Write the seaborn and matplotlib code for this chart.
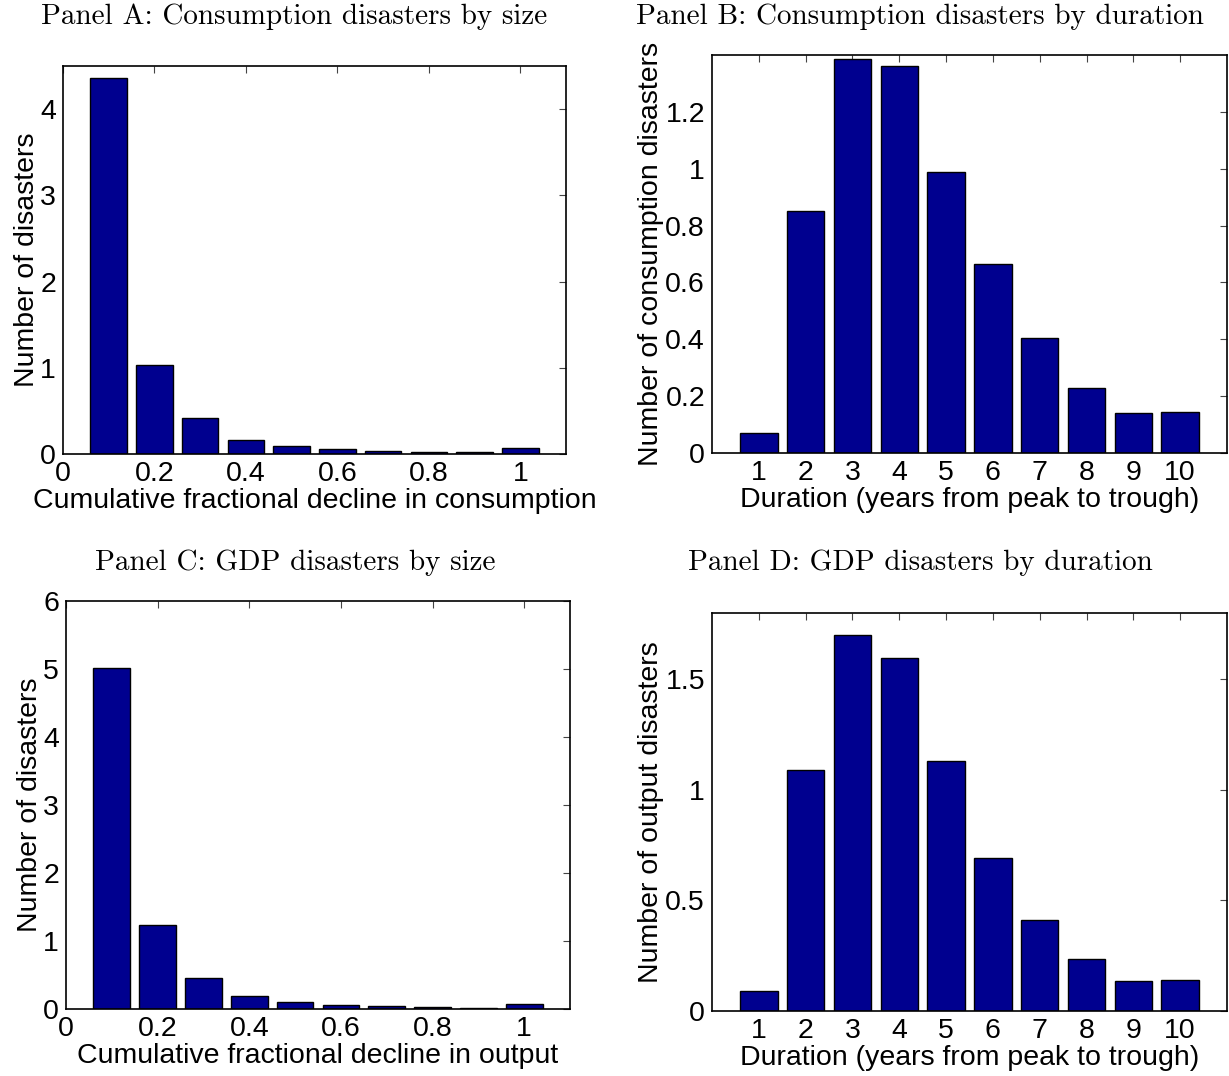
import numpy as np
import pandas as pd
import matplotlib
matplotlib.use("Agg")
import matplotlib.pyplot as plt
import seaborn as sns

# ---- data ----
size_bins = [0.1, 0.2, 0.3, 0.4, 0.5, 0.6, 0.7, 0.8, 0.9, 1.0]
cons_size = [4.36, 1.03, 0.42, 0.16, 0.09, 0.055, 0.035, 0.027, 0.02, 0.07]
gdp_size = [5.02, 1.24, 0.46, 0.19, 0.10, 0.055, 0.04, 0.025, 0.02, 0.07]

durations = [1, 2, 3, 4, 5, 6, 7, 8, 9, 10]
cons_dur = [0.07, 0.85, 1.385, 1.36, 0.99, 0.665, 0.405, 0.23, 0.14, 0.145]
gdp_dur = [0.09, 1.09, 1.70, 1.595, 1.13, 0.69, 0.41, 0.235, 0.135, 0.14]

size_ticks = [0, 0.2, 0.4, 0.6, 0.8, 1.0]
size_ticklabels = ["0", "0.2", "0.4", "0.6", "0.8", "1"]
a_yticks = [0, 1, 2, 3, 4]
b_yticks = [0, 0.2, 0.4, 0.6, 0.8, 1.0, 1.2]
b_yticklabels = ["0", "0.2", "0.4", "0.6", "0.8", "1", "1.2"]
c_yticks = [0, 1, 2, 3, 4, 5, 6]
d_yticks = [0, 0.5, 1.0, 1.5]
d_yticklabels = ["0", "0.5", "1", "1.5"]

titles = ["Panel A: Consumption disasters by size",
          "Panel B: Consumption disasters by duration",
          "Panel C: GDP disasters by size",
          "Panel D: GDP disasters by duration"]

sns.set_style("white")
plt.rcParams["font.family"] = ["Liberation Sans", "DejaVu Sans"]
plt.rcParams["text.color"] = "black"
plt.rcParams["axes.labelcolor"] = "black"
plt.rcParams["xtick.color"] = "black"
plt.rcParams["ytick.color"] = "black"

W, H = 1229, 1076
fig = plt.figure(figsize=(W / 100, H / 100), dpi=100)

def px_axes(l, t, r, b):
    return fig.add_axes([l / W, 1 - b / H, (r - l) / W, (b - t) / H])

axA = px_axes(63, 66, 566, 454)
axB = px_axes(712, 55, 1227, 453)
axC = px_axes(66, 601, 570, 1009)
axD = px_axes(712, 613, 1227, 1011)

BAR = "#00008F"
FS = 20.5

def draw(ax, x, y):
    df = pd.DataFrame({"x": x, "y": y})
    sns.barplot(data=df, x="x", y="y", native_scale=True, color=BAR,
                saturation=1, edgecolor="black", linewidth=1.0, width=0.8,
                ax=ax, errorbar=None)
    ax.tick_params(direction="in", top=True, right=True, length=5,
                   width=0.8, labelsize=FS, pad=5, color="#444444",
                   labelcolor="black")
    for s in ax.spines.values():
        s.set_visible(True)
        s.set_color("black")
        s.set_linewidth(1.2)

draw(axA, size_bins, cons_size)
axA.set_xlim(0, 1.1)
axA.set_ylim(0, 4.5)
axA.set_xticks(size_ticks)
axA.set_xticklabels(size_ticklabels)
axA.set_yticks(a_yticks)
axA.set_yticklabels([str(v) for v in a_yticks])
axA.set_xlabel("Cumulative fractional decline in consumption", fontsize=FS, labelpad=1)
axA.set_ylabel("Number of disasters", fontsize=FS, labelpad=0)

draw(axB, durations, cons_dur)
axB.set_xlim(0, 11)
axB.set_ylim(0, 1.4)
axB.set_xticks(durations)
axB.set_xticklabels([str(v) for v in durations])
axB.set_yticks(b_yticks)
axB.set_yticklabels(b_yticklabels)
axB.set_xlabel("Duration (years from peak to trough)", fontsize=FS, labelpad=1)
axB.set_ylabel("Number of consumption disasters", fontsize=FS, labelpad=1)

draw(axC, size_bins, gdp_size)
axC.set_xlim(0, 1.1)
axC.set_ylim(0, 6)
axC.set_xticks(size_ticks)
axC.set_xticklabels(size_ticklabels)
axC.set_yticks(c_yticks)
axC.set_yticklabels([str(v) for v in c_yticks])
axC.set_xlabel("Cumulative fractional decline in output", fontsize=FS, labelpad=1)
axC.set_ylabel("Number of disasters", fontsize=FS, labelpad=0)

draw(axD, durations, gdp_dur)
axD.set_xlim(0, 11)
axD.set_ylim(0, 1.8)
axD.set_xticks(durations)
axD.set_xticklabels([str(v) for v in durations])
axD.set_yticks(d_yticks)
axD.set_yticklabels(d_yticklabels)
axD.set_xlabel("Duration (years from peak to trough)", fontsize=FS, labelpad=1)
axD.set_ylabel("Number of output disasters", fontsize=FS, labelpad=1)

title_pos = [(294, 17), (920, 17), (295, 563), (920, 563)]
for t, (x, y) in zip(titles, title_pos):
    fig.text(x / W, 1 - y / H, t, ha="center", va="center",
             fontsize=21, family=["cmr10", "DejaVu Serif"])

fig.savefig("out.png", dpi=100)
